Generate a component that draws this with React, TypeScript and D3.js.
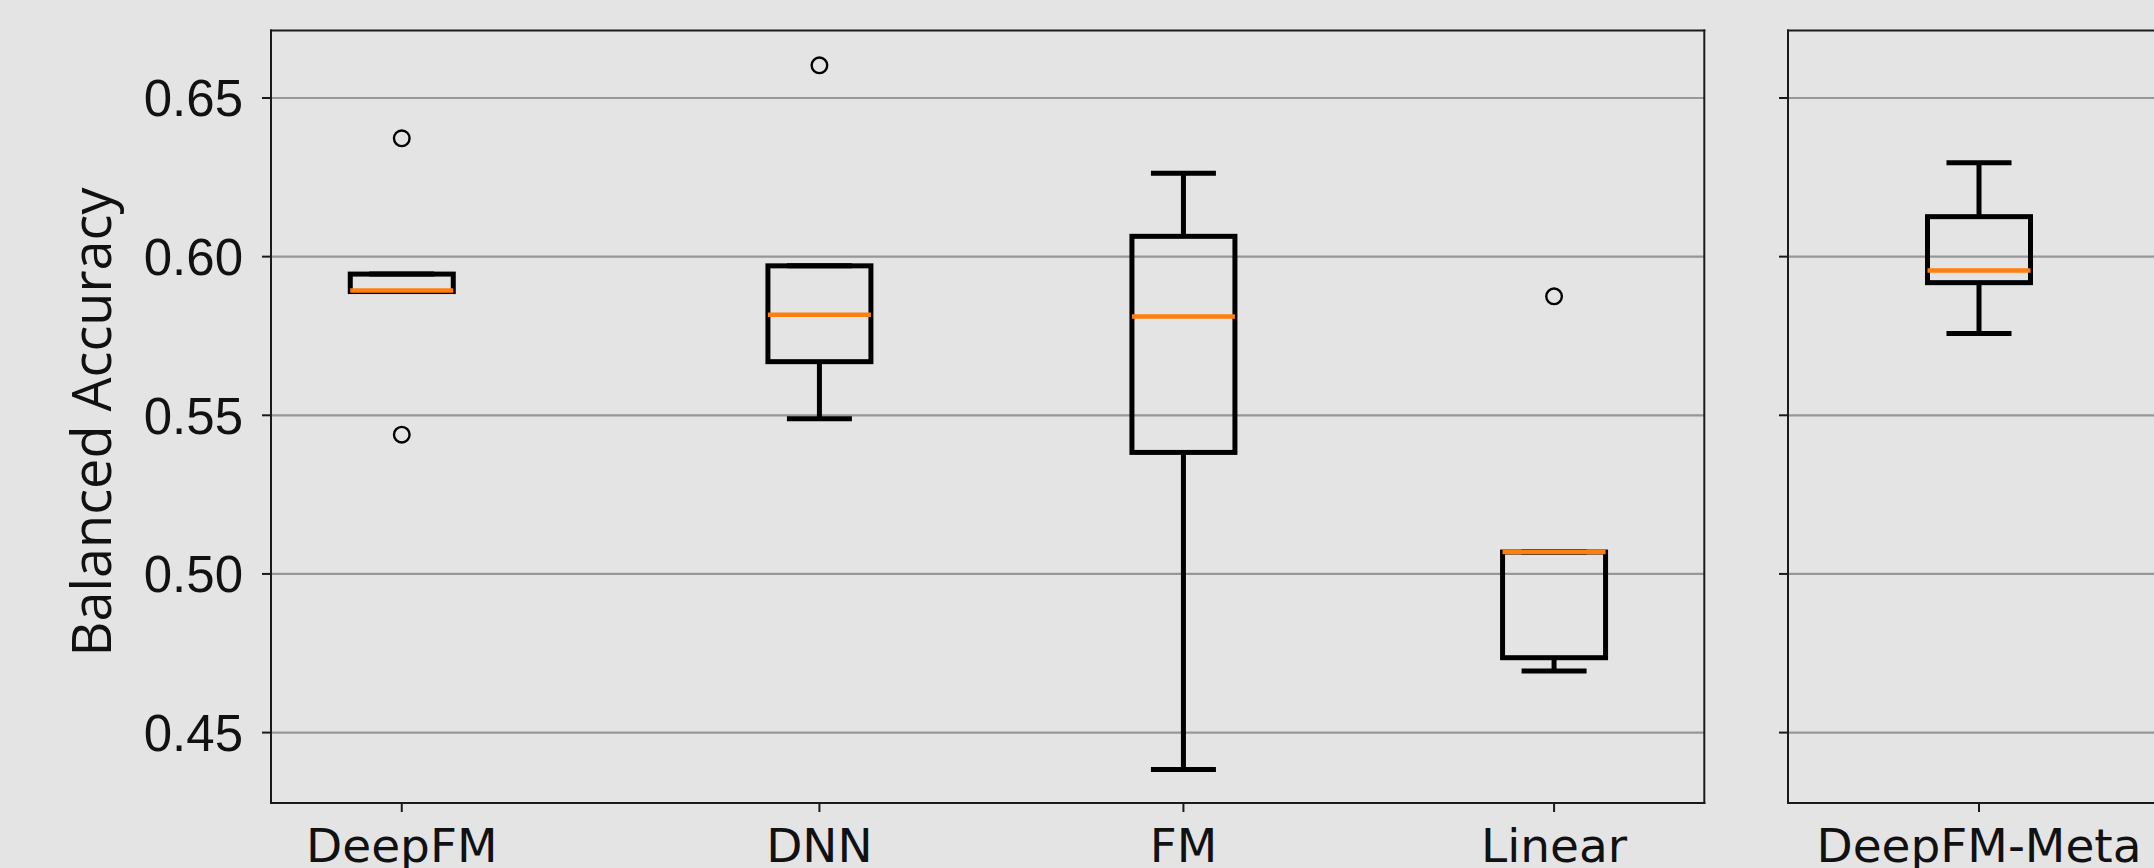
import React, { useEffect, useRef } from 'react';
import * as d3 from 'd3';

// left panel: four models
const categories = ['DeepFM', 'DNN', 'FM', 'Linear'];
const positions = [1, 2.137, 3.128, 4.137];
const whiskerLow = [0.5890, 0.5489, 0.4384, 0.4694];
const q1 = [0.5890, 0.5669, 0.5383, 0.4736];
const median = [0.5893, 0.5817, 0.5811, 0.5069];
const q3 = [0.5945, 0.5971, 0.6064, 0.5069];
const whiskerHigh = [0.5945, 0.5971, 0.6263, 0.5069];
const outliers = [[0.6373, 0.5439], [0.6603], [], [0.5875]];

// right panel: meta model
const metaCategories = ['DeepFM-Meta'];
const metaPositions = [1];
const metaWhiskerLow = [0.5758];
const metaQ1 = [0.5918];
const metaMedian = [0.5956];
const metaQ3 = [0.6126];
const metaWhiskerHigh = [0.6296];
const metaOutliers: number[][] = [[]];

const yTicks = [0.45, 0.50, 0.55, 0.60, 0.65];
const yLabel = 'Balanced Accuracy';

const W = 2154;
const H = 868;
const BG = '#e4e4e4';

type Boxes = {
    names: string[];
    pos: number[];
    lo: number[];
    q1: number[];
    med: number[];
    q3: number[];
    hi: number[];
    out: number[][];
};

export default function App() {
    const ref = useRef<SVGSVGElement | null>(null);

    useEffect(() => {
        const node = ref.current;
        if (!node) return;
        const svg = d3.select(node);
        svg.selectAll('*').remove();

        const top = 30.5, bottom = 803;
        const y = d3.scaleLinear().domain([0.42781, 0.67127]).range([bottom, top]);

        const boxHalf = 51.5;
        const capHalf = 30;

        const drawPanel = (x0: number, x1: number, x: d3.ScaleLinear<number, number>, b: Boxes, labels: boolean, rightSpine: boolean) => {
            const g = svg.append('g');

            // grid
            g.selectAll('line.grid')
                .data(yTicks)
                .enter()
                .append('line')
                .attr('x1', x0).attr('x2', x1)
                .attr('y1', d => y(d)).attr('y2', d => y(d))
                .style('stroke', '#979797')
                .style('stroke-width', '2.2px');

            // y ticks
            g.selectAll('line.ytick')
                .data(yTicks)
                .enter()
                .append('line')
                .attr('x1', x0 - 9).attr('x2', x0)
                .attr('y1', d => y(d)).attr('y2', d => y(d))
                .style('stroke', '#1a1a1a')
                .style('stroke-width', '2px');

            if (labels) {
                g.selectAll('text.ytick')
                    .data(yTicks)
                    .enter()
                    .append('text')
                    .attr('x', x0 - 28)
                    .attr('y', d => y(d) + 18.3)
                    .attr('text-anchor', 'end')
                    .style('font-family', '"Liberation Sans", Arial, sans-serif')
                    .style('font-size', '51px')
                    .style('fill', '#111')
                    .text(d => d.toFixed(2));
            }

            b.names.forEach((name, i) => {
                const cx = x(b.pos[i]);
                const stroke = (sel: any) => sel.style('stroke', '#000').style('stroke-width', '5px');

                // whiskers
                stroke(g.append('line')
                    .attr('x1', cx).attr('x2', cx)
                    .attr('y1', y(b.q3[i])).attr('y2', y(b.hi[i])));
                stroke(g.append('line')
                    .attr('x1', cx).attr('x2', cx)
                    .attr('y1', y(b.q1[i])).attr('y2', y(b.lo[i])));
                // caps
                [b.hi[i], b.lo[i]].forEach(v => {
                    stroke(g.append('line')
                        .attr('x1', cx - capHalf).attr('x2', cx + capHalf)
                        .attr('y1', y(v)).attr('y2', y(v))
                        .style('stroke-linecap', 'square'));
                });
                // box
                stroke(g.append('rect')
                    .attr('x', cx - boxHalf)
                    .attr('y', y(b.q3[i]))
                    .attr('width', boxHalf * 2)
                    .attr('height', Math.max(0.1, y(b.q1[i]) - y(b.q3[i])))
                    .style('fill', 'none')
                    .style('stroke-linejoin', 'miter'));
                // median
                g.append('line')
                    .attr('x1', cx - boxHalf).attr('x2', cx + boxHalf)
                    .attr('y1', y(b.med[i])).attr('y2', y(b.med[i]))
                    .style('stroke', '#ff7f0e')
                    .style('stroke-width', '4.5px');
                // fliers
                g.selectAll(null)
                    .data(b.out[i])
                    .enter()
                    .append('circle')
                    .attr('cx', cx)
                    .attr('cy', d => y(d))
                    .attr('r', 7.8)
                    .style('fill', 'none')
                    .style('stroke', '#000')
                    .style('stroke-width', '2.4px');

                // x tick + label
                g.append('line')
                    .attr('x1', cx).attr('x2', cx)
                    .attr('y1', bottom).attr('y2', bottom + 9)
                    .style('stroke', '#1a1a1a')
                    .style('stroke-width', '2px');
                g.append('text')
                    .attr('x', cx)
                    .attr('y', 861.7)
                    .attr('text-anchor', 'middle')
                    .style('font-family', '"DejaVu Sans", sans-serif')
                    .style('font-size', '47px')
                    .style('fill', '#111')
                    .text(name);
            });

            // spines
            const spine = (x1: number, y1: number, x2: number, y2: number) =>
                g.append('line')
                    .attr('x1', x1).attr('y1', y1).attr('x2', x2).attr('y2', y2)
                    .style('stroke', '#1a1a1a')
                    .style('stroke-width', '2px')
                    .style('stroke-linecap', 'square');
            spine(x0, top, x1, top);
            spine(x0, bottom, x1, bottom);
            spine(x0, top, x0, bottom);
            if (rightSpine) spine(x1, top, x1, bottom);
        };

        const xLeft = d3.scaleLinear().domain([0.644, 4.546]).range([271, 1704.3]);
        drawPanel(271, 1704.3, xLeft, {
            names: categories, pos: positions, lo: whiskerLow, q1, med: median, q3, hi: whiskerHigh, out: outliers,
        }, true, true);

        const xRight = d3.scaleLinear().domain([0.5, 1.5]).range([1788, 2170]);
        drawPanel(1788, 2170, xRight, {
            names: metaCategories, pos: metaPositions, lo: metaWhiskerLow, q1: metaQ1, med: metaMedian,
            q3: metaQ3, hi: metaWhiskerHigh, out: metaOutliers,
        }, false, false);

        svg.append('text')
            .attr('transform', 'translate(111, 422) rotate(-90)')
            .attr('text-anchor', 'middle')
            .style('font-family', '"Open Sans", sans-serif')
            .style('font-size', '54px')
            .style('fill', '#111')
            .text(yLabel);
    }, []);

    return (
        <svg ref={ref} width={W} height={H}
             style={{ position: 'absolute', left: 0, top: 0, background: BG, display: 'block' }}>
        </svg>
    );
}
